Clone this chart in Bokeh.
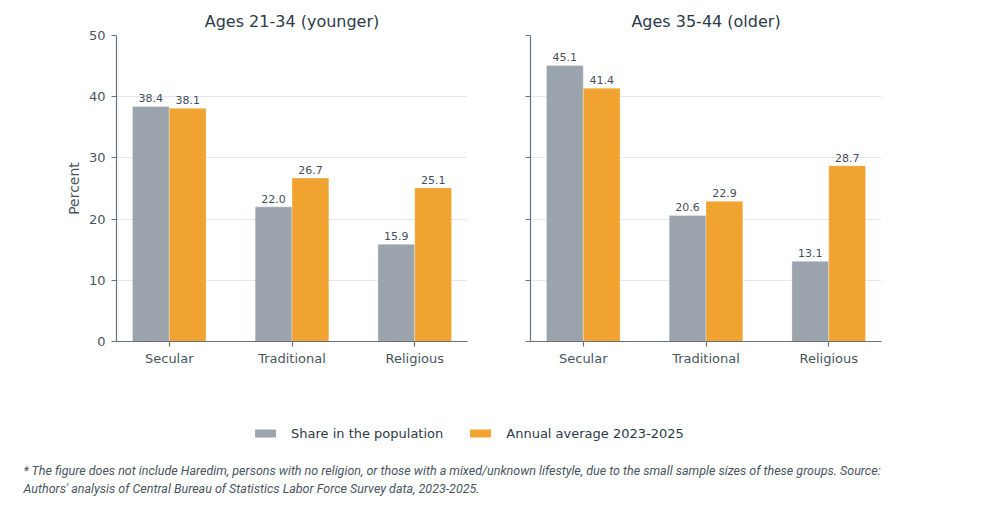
from bokeh.plotting import figure
from bokeh.models import (Range1d, FixedTicker, Legend, LegendItem, Label, Title,
                          ColumnDataSource)
from bokeh.layouts import column, row
from bokeh.embed import file_html
from bokeh.resources import INLINE
from bokeh.core.properties import value

categories = ["Secular", "Traditional", "Religious"]
panel_titles = ["Ages 21-34 (younger)", "Ages 35-44 (older)"]
young_share = [38.4, 22.0, 15.9]
young_avg = [38.1, 26.7, 25.1]
old_share = [45.1, 20.6, 13.1]
old_avg = [41.4, 22.9, 28.7]
series_names = ["Share in the population", "Annual average 2023-2025"]
y_ticks = [0, 10, 20, 30, 40, 50]
footnote1 = ("* The figure does not include Haredim, persons with no religion, or those with a "
             "mixed/unknown lifestyle, due to the small sample sizes of these groups. Source:")
footnote2 = "Authors' analysis of Central Bureau of Statistics Labor Force Survey data, 2023-2025."

GRAY = "#9ba4ac"
ORANGE = "#f0a330"
TXT = "#2d3a48"
TICK_TXT = "#4a5561"
AXIS = "#67727c"
GRID = "#e4e8ec"
FONT = "DejaVu Sans"
BW = 0.3


def make_panel(title, share, avg, show_ylabels, left, right):
    p = figure(output_backend="svg", toolbar_location=None,
               frame_width=351, frame_height=306,
               min_border_left=left, min_border_right=right,
               min_border_top=35, min_border_bottom=59,
               x_range=Range1d(-0.43, 2.43), y_range=Range1d(0, 50))
    p.title = Title(text=title, align="center", text_font=FONT, text_font_size="16px",
                    text_font_style="normal", text_color=TXT, standoff=9)
    p.outline_line_color = None
    p.background_fill_color = "white"
    p.border_fill_color = "white"
    p.xgrid.visible = False
    p.ygrid.grid_line_color = GRID
    p.ygrid.grid_line_width = 1
    p.ygrid.ticker = FixedTicker(ticks=y_ticks)

    xs = list(range(len(categories)))
    src = ColumnDataSource(dict(
        x1=[x - BW / 2 for x in xs], x2=[x + BW / 2 for x in xs],
        share=share, avg=avg,
        sl=[f"{v:.1f}" for v in share], al=[f"{v:.1f}" for v in avg]))
    p.vbar(x="x1", top="share", width=BW, bottom=0, source=src,
           fill_color=GRAY, line_color="white", line_width=0.3)
    p.vbar(x="x2", top="avg", width=BW, bottom=0, source=src,
           fill_color=ORANGE, line_color="white", line_width=0.3)
    for xcol, ycol, lcol in (("x1", "share", "sl"), ("x2", "avg", "al")):
        p.text(x=xcol, y=ycol, text=lcol, source=src, text_align="center",
               text_baseline="bottom", y_offset=-4, text_font=value(FONT),
               text_font_size="11px", text_color="#454f59")

    xa = p.xaxis[0]
    xa.ticker = FixedTicker(ticks=xs)
    xa.major_label_overrides = {i: c for i, c in enumerate(categories)}
    ya = p.yaxis[0]
    ya.ticker = FixedTicker(ticks=y_ticks)
    if show_ylabels:
        ya.axis_label = "Percent"
        ya.axis_label_text_font = FONT
        ya.axis_label_text_font_size = "14px"
        ya.axis_label_text_font_style = "normal"
        ya.axis_label_text_color = TICK_TXT
        ya.axis_label_standoff = 4
    else:
        ya.major_label_overrides = {t: "" for t in y_ticks}
    for ax in (xa, ya):
        ax.axis_line_color = AXIS
        ax.axis_line_width = 1.2
        ax.major_tick_line_color = AXIS
        ax.major_tick_line_width = 1.2
        ax.major_tick_out = 5
        ax.major_tick_in = 0
        ax.minor_tick_line_color = None
        ax.major_label_text_font = FONT
        ax.major_label_text_font_size = "13px"
        ax.major_label_text_color = TICK_TXT
    xa.major_label_standoff = 4
    ya.major_label_standoff = 6
    return p


p1 = make_panel(panel_titles[0], young_share, young_avg, True, 116, 33)
p2 = make_panel(panel_titles[1], old_share, old_avg, False, 30, 102)

pb = figure(output_backend="svg", toolbar_location=None, width=983, height=105,
            x_range=Range1d(0, 1), y_range=Range1d(0, 1), min_border=0)
pb.axis.visible = False
pb.grid.visible = False
pb.outline_line_color = None
# legend-only renderers (placed outside the visible range)
r1 = pb.vbar(x=[-10], top=[-10], width=0.1, fill_color=GRAY, line_color=None)
r2 = pb.vbar(x=[-10], top=[-10], width=0.1, fill_color=ORANGE, line_color=None)
leg = Legend(items=[LegendItem(label=series_names[0], renderers=[r1]),
                    LegendItem(label=series_names[1], renderers=[r2])],
             orientation="horizontal", location=(252, 64),
             glyph_width=26, glyph_height=10, label_height=16,
             label_standoff=13, spacing=24, padding=0, margin=0,
             border_line_color=None, background_fill_alpha=0,
             label_text_font=FONT, label_text_font_size="13px",
             label_text_color=TXT)
pb.add_layout(leg, "center")
for txt, yy in ((footnote1, 35), (footnote2, 17)):
    pb.add_layout(Label(x=23, y=yy, x_units="screen", y_units="screen", text=txt,
                        text_font="Roboto", text_font_style="italic",
                        text_font_size="12.5px", text_color=TICK_TXT,
                        text_baseline="middle"))

layout = column(row(p1, p2), pb)
open("out.html", "w").write(file_html(layout, INLINE))
